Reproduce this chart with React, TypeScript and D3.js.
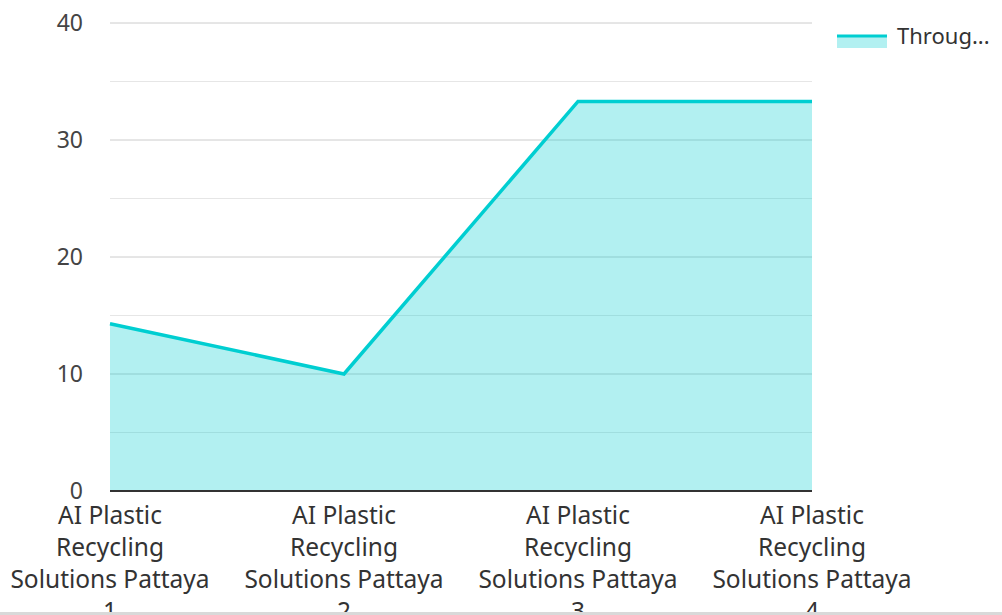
import { useEffect, useRef } from 'react'
import * as d3 from 'd3'

const categories = [
  'AI Plastic Recycling Solutions Pattaya 1',
  'AI Plastic Recycling Solutions Pattaya 2',
  'AI Plastic Recycling Solutions Pattaya 3',
  'AI Plastic Recycling Solutions Pattaya 4',
]
const throughput = [14.3, 10, 33.3, 33.3]
const seriesName = 'Throughput'
const yTicks = [0, 10, 20, 30, 40]
const yMinor = [5, 15, 25, 35]

const W = 1002
const H = 615
const FONT = '"Noto Sans", sans-serif'

export default function App() {
  const svgRef = useRef<SVGSVGElement>(null)

  useEffect(() => {
    if (!svgRef.current) return
    const svg = d3.select(svgRef.current)
    svg.selectAll('*').remove()

    const margin = { top: 23, right: 190, bottom: 124, left: 110 }
    const x = d3.scalePoint<string>()
      .domain(categories)
      .range([margin.left, W - margin.right])
    const y = d3.scaleLinear()
      .domain([0, 40])
      .range([H - margin.bottom, margin.top])

    // clip everything to the visible page area above the bottom strip
    svg.append('clipPath').attr('id', 'pageclip')
      .append('rect').attr('x', 0).attr('y', 0).attr('width', W).attr('height', 612)
    const g = svg.append('g').attr('clip-path', 'url(#pageclip)')

    // gridlines
    g.selectAll('line.minor')
      .data(yMinor)
      .join('line')
      .attr('x1', margin.left).attr('x2', W - margin.right)
      .attr('y1', d => y(d)).attr('y2', d => y(d))
      .style('stroke', '#e6e6e6').style('stroke-width', 1)

    g.selectAll('line.major')
      .data(yTicks.filter(d => d > 0))
      .join('line')
      .attr('x1', margin.left).attr('x2', W - margin.right)
      .attr('y1', d => y(d)).attr('y2', d => y(d))
      .style('stroke', '#cccccc').style('stroke-width', 1)

    // area + line
    const pts = categories.map((c, i) => [x(c)!, y(throughput[i])] as [number, number])
    const area = d3.area<[number, number]>()
      .x(d => d[0]).y0(y(0)).y1(d => d[1])
    const line = d3.line<[number, number]>().x(d => d[0]).y(d => d[1])

    g.append('path')
      .attr('d', area(pts))
      .style('fill', 'rgba(0, 206, 209, 0.3)')

    g.append('path')
      .attr('d', line(pts))
      .style('fill', 'none')
      .style('stroke', '#00ced1')
      .style('stroke-width', 3.5)
      .style('stroke-linejoin', 'miter')

    // x axis baseline
    g.append('line')
      .attr('x1', margin.left).attr('x2', W - margin.right)
      .attr('y1', y(0)).attr('y2', y(0))
      .style('stroke', '#333').style('stroke-width', 2)

    // y tick labels
    g.selectAll('text.ytick')
      .data(yTicks)
      .join('text')
      .attr('x', 83)
      .attr('y', d => y(d))
      .attr('dy', '0.35em')
      .style('text-anchor', 'end')
      .style('font-family', FONT)
      .style('font-size', '23px')
      .style('fill', '#444')
      .text(d => d)

    // x labels, wrapped
    const wrapLines = (s: string) => {
      const parts = s.split(' ')
      return [parts.slice(0, 2).join(' '), parts[2], parts.slice(3, 5).join(' '), parts[5]]
    }
    categories.forEach(c => {
      const t = g.append('text')
        .attr('x', x(c)!)
        .attr('y', 524)
        .style('text-anchor', 'middle')
        .style('font-family', FONT)
        .style('font-size', '24.5px')
        .style('fill', '#333')
      wrapLines(c).forEach((ln, i) => {
        t.append('tspan').attr('x', x(c)!).attr('y', 524 + i * 32).text(ln)
      })
    })

    // legend
    const lg = svg.append('g')
    lg.append('rect')
      .attr('x', 837).attr('y', 35).attr('width', 50).attr('height', 13)
      .style('fill', 'rgba(0, 206, 209, 0.3)')
    lg.append('line')
      .attr('x1', 837).attr('x2', 887).attr('y1', 36).attr('y2', 36)
      .style('stroke', '#00ced1').style('stroke-width', 3)
    lg.append('text')
      .attr('x', 897).attr('y', 36).attr('dy', '0.35em')
      .style('font-family', FONT)
      .style('font-size', '22px')
      .style('fill', '#333')
      .text(seriesName.slice(0, 6) + '...')

    // bottom strip
    svg.append('rect')
      .attr('x', 0).attr('y', 612).attr('width', W).attr('height', 3)
      .style('fill', '#d9d9d9')
  }, [])

  return (
    <div style={{ position: 'absolute', left: 0, top: 0, width: W, height: H, background: '#fff' }}>
      <svg ref={svgRef} width={W} height={H} style={{ display: 'block' }}></svg>
    </div>
  )
}
